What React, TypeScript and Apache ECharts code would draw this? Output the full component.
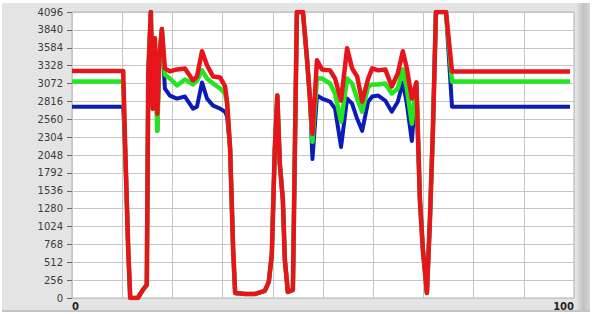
import React, { useEffect, useRef } from "react";
import * as echarts from "echarts";

const xs = [
  0, 10.0, 10.2, 10.6, 11.2, 11.6, 13.1, 14.1, 14.9, 15.2, 15.7, 16.1, 16.5, 17.0, 17.4, 17.9,
  18.5, 19.5, 20.9, 22.5, 24.1, 24.9, 25.9, 26.9, 28.1, 29.5, 30.5, 30.9, 31.5, 32.1, 32.5,
  34.5, 36.5, 38.4, 39.2, 39.8, 40.4, 40.9, 41.4, 42.0, 42.4, 43.0, 44.0, 44.4, 44.8, 46.0,
  46.8, 47.4, 47.9, 48.8, 49.8, 51.4, 52.4, 53.6, 54.8, 55.8, 56.8, 57.8, 59.0, 59.8, 61.0,
  62.4, 63.7, 64.9, 65.9, 66.7, 67.7, 68.6, 69.3, 69.9, 70.7, 71.3, 71.9, 72.5, 74.5, 75.7, 99.2,
];

const redValues = [
  3252, 3252, 3252, 2135, 692, 0, 0, 115, 188, 3216, 4096, 2712, 3721, 2639, 3433, 3851,
  3288, 3245, 3274, 3288, 3115, 3173, 3534, 3332, 3173, 3159, 3029, 2800, 2135, 692, 72,
  58, 58, 101, 231, 620, 2135, 2899, 1918, 1413, 548, 87, 115, 2135, 4096, 4096,
  3433, 2856, 2351, 3404, 3274, 3260, 3144, 2827, 3577, 3288, 3173, 2812, 3144, 3288, 3260,
  3274, 3029, 3216, 3534, 3288, 2856, 3087, 1413, 692, 72, 1125, 2423, 4096, 4096, 3245, 3245,
];

const greenValues = [
  3101, 3101, 3101, 2135, 692, 0, 0, 115, 188, 3216, 4096, 2712, 3721, 2394, 3433, 3851,
  3202, 3144, 3043, 3130, 3058, 3115, 3260, 3144, 3072, 3000, 2928, 2780, 2135, 692, 72,
  58, 58, 101, 231, 620, 2135, 2899, 1918, 1413, 548, 87, 115, 2135, 4096, 4096,
  3433, 2856, 2236, 3144, 3144, 3072, 2928, 2524, 3144, 3072, 2856, 2668, 3029, 3058, 3058,
  3072, 2928, 3000, 3274, 3000, 2495, 3087, 1413, 692, 72, 1125, 2423, 4096, 4096, 3101, 3101,
];

const blueValues = [
  2740, 2740, 2740, 2135, 692, 0, 0, 115, 188, 3216, 4096, 2712, 3721, 2394, 3433, 3851,
  3000, 2899, 2856, 2885, 2712, 2740, 3087, 2856, 2755, 2712, 2668, 2600, 2135, 692, 72,
  58, 58, 101, 231, 620, 2135, 2899, 1918, 1413, 548, 87, 115, 2135, 4096, 4096,
  3433, 2856, 1990, 2899, 2856, 2812, 2712, 2163, 2856, 2784, 2567, 2394, 2812, 2885, 2899,
  2827, 2668, 2812, 3087, 2784, 2250, 3087, 1413, 692, 72, 1125, 2423, 4096, 4096, 2740, 2740,
];

const xEdgeLabels = [0, 100];

const pairs = (ys: number[]) => xs.map((x, i) => [x, ys[i]]);

export default function App() {
  const ref = useRef<HTMLDivElement>(null);
  useEffect(() => {
    if (!ref.current) return;
    const chart = echarts.init(ref.current, undefined, { renderer: "svg" });
    const labelFont = "DejaVu Sans";
    chart.setOption({
      animation: false,
      backgroundColor: "#ffffff",
      graphic: [
        {
          type: "rect",
          z: -10,
          silent: true,
          shape: { x: 2, y: 3, width: 588, height: 309 },
          style: { fill: "#e4e4e4" },
        },
        {
          type: "rect",
          z: -9,
          silent: true,
          shape: { x: 577, y: 3, width: 13, height: 309 },
          style: {
            fill: new echarts.graphic.LinearGradient(0, 0, 1, 0, [
              { offset: 0, color: "#dedede" },
              { offset: 0.5, color: "#c2c2c2" },
              { offset: 1, color: "#d4d4d4" },
            ]),
          },
        },
        {
          type: "rect",
          z: -9,
          silent: true,
          shape: { x: 2, y: 310, width: 588, height: 2 },
          style: { fill: "#c4c4c4" },
        },
      ],
      grid: {
        left: 72,
        right: 23,
        top: 12,
        bottom: 16,
        show: true,
        backgroundColor: "#ffffff",
        borderColor: "#b4b4b4",
        borderWidth: 1,
      },
      xAxis: {
        type: "value",
        min: 0,
        max: 100,
        interval: 10,
        axisLine: { show: false },
        axisTick: { show: false },
        splitLine: { show: true, lineStyle: { color: "#c6c6c6", width: 1 } },
        axisLabel: {
          margin: 3,
          fontSize: 10,
          fontWeight: "bold",
          fontFamily: labelFont,
          color: "#222222",
          alignMinLabel: "left",
          alignMaxLabel: "right",
          formatter: (v: number) => (xEdgeLabels.includes(v) ? String(v) : ""),
        },
      },
      yAxis: {
        type: "value",
        min: 0,
        max: 4096,
        interval: 256,
        axisLine: { show: false },
        axisTick: { show: true, length: 5, lineStyle: { color: "#666666" } },
        splitLine: { show: true, lineStyle: { color: "#c6c6c6", width: 1 } },
        axisLabel: {
          margin: 9,
          fontSize: 10,
          fontFamily: labelFont,
          color: "#3c3c3c",
          formatter: (v: number) => String(v),
        },
      },
      series: [
        {
          name: "blue",
          type: "line",
          showSymbol: false,
          data: pairs(blueValues),
          lineStyle: { color: "#0c1ab8", width: 4, join: "round" },
          itemStyle: { color: "#0c1ab8" },
          z: 2,
        },
        {
          name: "green",
          type: "line",
          showSymbol: false,
          data: pairs(greenValues),
          lineStyle: { color: "#22e61e", width: 4.5, join: "round" },
          itemStyle: { color: "#22e61e" },
          z: 3,
        },
        {
          name: "red",
          type: "line",
          showSymbol: false,
          data: pairs(redValues),
          lineStyle: { color: "#e8141c", width: 4.5, join: "round" },
          itemStyle: { color: "#e8141c" },
          z: 4,
        },
      ],
    });
    return () => chart.dispose();
  }, []);
  return (
    <div
      ref={ref}
      style={{ position: "fixed", left: 0, top: 0, width: 597, height: 314 }}
    />
  );
}
